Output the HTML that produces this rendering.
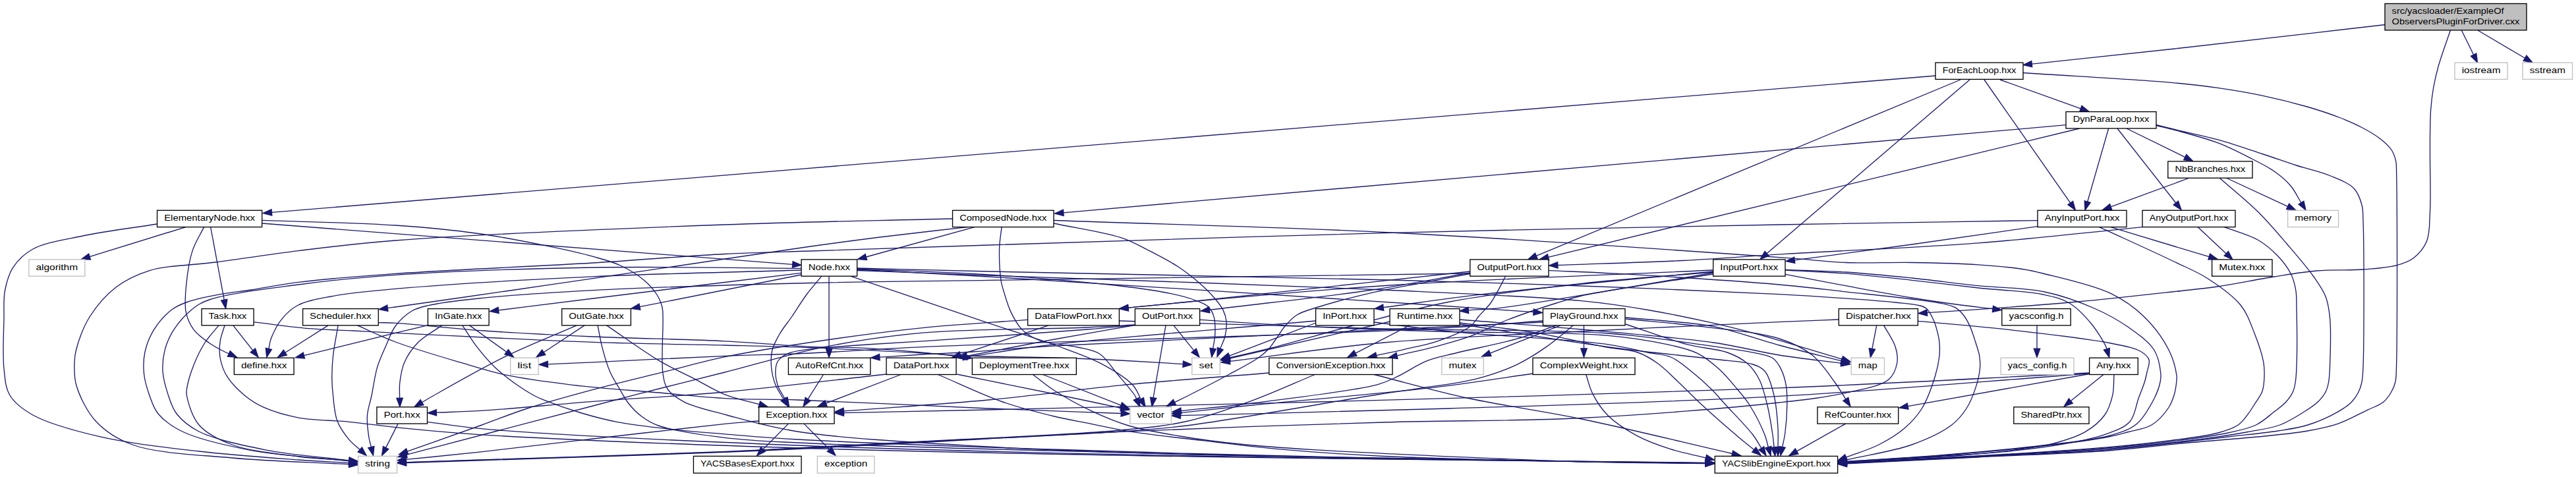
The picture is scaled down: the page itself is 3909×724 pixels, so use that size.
<!DOCTYPE html><html><head><meta charset="utf-8"><title>include graph</title><style>html,body{margin:0;padding:0;background:#fff}svg{display:block}text{font-family:"Liberation Sans",sans-serif;font-size:13.6px;fill:#000}</style></head><body>
<svg width="3909" height="724" viewBox="0 0 3909 724">
<rect width="3909" height="724" fill="#fff"/>
<g fill="none" stroke="#191970" stroke-width="1.33">
<path d="M3619.0,37.5C3512.7,49.7 3396.1,63.4 3300.0,74.0C3220.8,82.7 3155.5,89.4 3083.3,97.1"/>
<path d="M3718.4,46.0C3712.4,64.0 3704.8,84.0 3700.3,100.0C3696.8,112.4 3694.6,122.3 3692.6,133.5C3690.7,144.6 3689.4,155.9 3688.6,167.0C3687.8,178.0 3687.8,188.5 3687.6,200.0C3687.4,212.7 3687.5,224.3 3687.5,240.0C3687.5,262.3 3688.8,298.0 3687.5,321.0C3686.5,338.2 3687.6,353.6 3682.5,366.0C3678.2,376.6 3670.1,385.8 3662.0,392.0C3654.7,397.6 3647.0,399.9 3637.0,402.6C3623.4,406.3 3605.2,407.6 3587.0,409.0C3565.4,410.7 3539.1,409.1 3516.0,411.0C3493.8,412.8 3474.1,416.4 3451.0,420.0C3424.3,424.2 3391.7,431.1 3365.0,435.0C3341.9,438.3 3326.0,439.6 3300.0,442.5C3260.9,446.8 3202.4,453.5 3153.0,458.0C3103.0,462.6 3044.1,466.6 3002.0,469.6C2971.8,471.8 2950.2,473.0 2924.3,474.7"/>
<path d="M3735.3,46.0L3753.6,83.0"/>
<path d="M3760.0,46.0L3831.5,88.2"/>
<path d="M3070.0,110.5C3146.7,115.6 3246.3,120.9 3300.0,125.8C3329.1,128.5 3344.7,130.4 3367.0,133.6C3389.4,136.9 3411.8,140.6 3434.0,145.3C3456.4,150.0 3480.3,156.0 3501.0,162.0C3519.2,167.3 3536.7,173.1 3551.7,179.0C3564.1,183.9 3574.6,188.5 3585.0,194.0C3594.7,199.1 3604.3,204.7 3612.0,210.7C3618.7,215.9 3625.0,221.4 3629.0,227.5C3632.5,232.8 3634.3,238.5 3635.6,244.3C3636.9,250.0 3636.3,252.5 3636.6,262.0C3637.7,300.6 3638.0,512.5 3636.5,556.0C3636.1,568.5 3636.4,573.0 3634.8,580.0C3633.5,585.7 3631.5,590.2 3628.7,595.0C3625.6,600.3 3622.0,605.9 3616.7,610.2C3610.4,615.3 3601.9,617.8 3592.5,622.3C3579.8,628.4 3562.6,638.1 3547.2,643.4C3532.4,648.5 3518.2,651.1 3502.0,654.0C3483.4,657.3 3465.1,659.0 3441.5,661.5C3408.2,665.0 3361.0,668.3 3320.8,672.0C3280.5,675.8 3245.4,680.6 3200.0,684.0C3141.7,688.3 3066.5,690.7 3000.0,694.0C2933.9,697.3 2868.2,700.6 2802.3,703.8"/>
<path d="M2937.0,115.0L412.3,322.4"/>
<path d="M2975.0,121.0L2331.3,388.4"/>
<path d="M2989.0,121.0L2681.1,384.8"/>
<path d="M3011.0,121.0L3141.8,308.1"/>
<path d="M3035.0,121.0L3157.4,164.8"/>
<path d="M3135.0,189.7L1613.8,322.8"/>
<path d="M3155.5,195.0L2349.5,390.4"/>
<path d="M3199.7,195.0L3167.7,306.2"/>
<path d="M3213.0,195.0L3301.8,308.0"/>
<path d="M3227.0,195.0L3315.7,238.6"/>
<path d="M3272.0,190.5C3281.3,192.8 3288.7,194.2 3300.0,197.3C3317.6,202.1 3346.6,209.6 3367.0,217.4C3385.2,224.4 3402.1,233.3 3417.0,241.0C3429.5,247.5 3440.9,252.8 3451.0,260.0C3460.4,266.6 3469.1,273.8 3476.0,282.0C3482.6,289.8 3486.6,299.1 3492.0,307.7"/>
<path d="M3272.0,189.5C3281.3,191.8 3288.7,193.7 3300.0,196.5C3317.5,200.8 3344.8,206.2 3367.0,212.4C3389.5,218.7 3413.3,227.2 3434.0,234.0C3452.1,239.9 3467.6,245.5 3484.6,251.0C3501.8,256.5 3521.1,260.6 3536.5,267.0C3549.8,272.5 3564.0,277.6 3572.0,286.0C3578.6,292.9 3581.7,302.5 3584.0,311.0C3586.1,318.9 3585.5,323.0 3586.0,335.0C3587.5,371.5 3587.5,519.5 3586.0,556.0C3585.5,568.0 3585.4,573.0 3584.0,580.0C3582.8,585.7 3581.4,590.2 3579.0,595.0C3576.4,600.2 3573.0,605.5 3568.4,610.2C3562.9,615.8 3555.9,620.4 3547.2,625.3C3535.2,632.1 3517.3,640.2 3502.0,645.0C3487.1,649.7 3473.7,651.3 3456.6,654.0C3434.7,657.5 3411.6,659.5 3381.0,663.0C3333.6,668.4 3261.9,677.6 3200.0,682.6C3135.1,687.9 3066.5,690.0 3000.0,693.5C2933.9,696.9 2868.2,700.1 2802.3,703.3"/>
<path d="M3378.0,270.0L3471.6,313.4"/>
<path d="M3322.6,270.0L3203.2,313.9"/>
<path d="M3368.0,270.0C3387.3,287.0 3408.4,303.6 3426.0,321.0C3442.5,337.3 3456.6,354.2 3471.0,371.0C3484.9,387.2 3500.7,405.3 3511.0,420.0C3518.7,430.9 3524.9,439.5 3529.0,450.0C3533.0,460.2 3534.2,469.1 3535.5,482.0C3537.5,501.5 3536.2,538.1 3535.5,556.0C3535.1,566.2 3534.9,573.0 3533.6,580.0C3532.5,585.7 3531.5,590.2 3529.0,595.0C3526.2,600.3 3522.0,605.5 3517.0,610.2C3511.3,615.7 3504.1,620.2 3496.0,625.3C3485.7,631.8 3473.0,640.0 3459.7,645.0C3445.1,650.4 3430.1,652.1 3411.4,655.5C3386.0,660.2 3353.2,665.0 3320.8,669.0C3283.5,673.6 3245.4,677.4 3200.0,681.0C3141.7,685.6 3066.5,689.4 3000.0,693.0C2933.9,696.6 2868.2,699.6 2802.3,702.8"/>
<path d="M3335.0,344.6L3378.2,384.9"/>
<path d="M3375.5,344.6C3392.3,351.1 3411.9,355.9 3426.0,364.0C3437.9,370.8 3447.5,379.2 3456.0,388.0C3464.0,396.3 3471.3,405.8 3476.0,415.0C3480.1,423.1 3482.2,431.3 3483.7,440.0C3485.3,449.0 3484.7,456.1 3485.0,468.0C3485.5,489.2 3485.8,535.9 3485.0,556.0C3484.6,566.5 3484.4,573.0 3483.2,580.0C3482.3,585.6 3481.5,590.2 3479.3,595.0C3476.9,600.3 3473.1,605.4 3468.7,610.2C3463.8,615.6 3457.3,620.1 3450.6,625.3C3442.5,631.6 3434.0,639.9 3423.4,645.0C3411.3,650.9 3397.9,653.3 3381.0,657.0C3356.6,662.3 3320.8,666.8 3290.6,670.6C3260.5,674.4 3236.1,676.6 3200.0,679.6C3146.4,684.0 3066.5,688.7 3000.0,692.5C2933.9,696.3 2868.2,699.1 2802.3,702.3"/>
<path d="M3251.0,344.6C3168.0,352.7 3088.4,362.2 3002.0,368.8C2908.6,376.0 2792.3,380.4 2710.0,385.4C2649.6,389.1 2607.8,392.7 2553.0,395.5C2492.9,398.5 2426.9,400.2 2363.8,402.5"/>
<path d="M3203.0,344.6C3235.3,354.4 3272.6,365.7 3300.0,374.0C3320.1,380.1 3334.8,384.4 3352.2,389.7"/>
<path d="M3185.7,344.6C3223.8,362.2 3269.8,382.9 3300.0,397.5C3320.2,407.2 3333.9,412.3 3350.0,422.7C3367.3,433.8 3387.9,447.9 3400.0,463.0C3410.4,476.0 3415.2,491.0 3421.0,505.7C3426.8,520.4 3432.8,537.4 3435.0,551.0C3436.7,561.6 3436.2,571.9 3435.5,580.0C3435.0,585.8 3434.4,590.1 3432.5,595.0C3430.5,600.2 3426.7,605.0 3423.4,610.2C3419.7,616.0 3415.9,622.5 3411.4,628.3C3406.9,634.2 3402.9,640.5 3396.3,645.0C3388.4,650.5 3378.6,653.5 3366.0,657.0C3346.7,662.3 3316.9,665.5 3290.6,669.0C3261.8,672.8 3236.1,675.6 3200.0,678.7C3146.4,683.3 3066.5,688.1 3000.0,692.0C2933.9,695.8 2868.2,698.6 2802.3,701.8"/>
<path d="M3092.0,343.6C3028.3,352.7 2963.5,362.3 2901.0,371.0C2840.7,379.4 2782.5,386.9 2723.2,394.8"/>
<path d="M3092.0,334.6C2961.3,336.7 2844.5,338.3 2700.0,341.0C2521.2,344.4 2300.0,348.5 2100.0,353.7C1900.0,358.9 1660.6,366.9 1500.0,372.0C1392.3,375.4 1303.7,378.5 1230.0,381.0C1178.8,382.7 1148.0,383.1 1100.0,385.5C1040.5,388.5 973.4,394.5 900.0,399.0C810.1,404.5 682.3,409.5 600.0,415.4C542.3,419.5 493.3,423.4 453.0,428.4C424.7,431.9 402.5,436.7 381.0,440.0C363.7,442.6 349.8,443.7 334.0,446.7C317.5,449.8 297.4,453.7 284.0,458.5C274.4,461.9 268.0,464.4 260.4,470.2C251.0,477.4 240.4,489.4 233.6,500.4C227.2,510.8 222.5,522.6 220.0,534.0C217.6,545.0 217.4,556.5 218.5,567.5C219.6,578.5 223.1,589.7 226.8,600.0C230.3,609.9 233.0,619.5 240.0,628.0C248.5,638.3 260.6,647.1 276.8,655.0C301.3,666.9 340.2,675.6 377.5,682.8C422.7,691.5 479.0,694.2 529.8,699.9"/>
<path d="M238.5,340.0C200.9,346.0 159.5,350.9 125.8,358.0C97.9,363.9 68.6,367.8 50.0,378.0C36.5,385.4 27.1,394.9 20.0,405.7C13.2,416.0 9.9,428.5 7.5,441.0C4.9,454.4 6.3,467.7 6.0,484.0C5.6,505.6 3.7,538.3 6.0,559.5C7.7,575.2 8.1,588.5 15.0,600.0C22.3,612.2 34.2,621.1 50.0,630.0C74.0,643.5 113.6,653.9 151.0,662.7C195.9,673.2 251.6,679.1 302.0,685.0C352.2,690.9 411.1,694.9 453.0,698.0C482.8,700.2 504.1,701.1 529.7,702.7"/>
<path d="M281.8,344.6L136.0,389.6"/>
<path d="M309.5,344.6C303.7,356.6 296.4,367.3 292.0,380.6C287.1,395.7 284.4,414.8 282.8,431.0C281.4,445.7 279.7,461.3 282.2,473.6C284.3,483.8 288.3,492.7 294.0,500.4C299.9,508.4 309.3,514.8 317.4,520.5C325.0,525.9 335.6,531.3 341.0,534.0C343.7,535.4 345.2,535.9 347.2,536.8"/>
<path d="M319.6,344.6L340.2,455.2"/>
<path d="M397.6,339.0L1202.7,401.4"/>
<path d="M397.6,334.3C465.1,336.9 540.6,337.9 600.0,342.0C647.0,345.2 685.9,348.9 725.8,354.5C762.5,359.6 799.4,367.0 830.7,373.4C856.3,378.6 880.0,383.8 900.0,389.4C915.7,393.8 928.5,396.9 941.5,403.0C954.3,409.0 967.8,417.2 977.5,425.4C985.6,432.2 992.3,440.0 997.0,447.5C1001.0,453.9 1003.5,460.6 1005.0,467.0C1006.3,472.7 1005.8,476.2 1006.0,484.0C1006.5,501.3 1003.1,548.4 1006.0,567.5C1007.6,577.9 1008.7,584.2 1013.4,591.0C1018.7,598.6 1027.1,604.2 1037.8,609.8C1053.8,618.1 1078.5,623.3 1103.0,630.0C1134.1,638.5 1165.3,648.0 1210.0,655.0C1282.7,666.3 1401.7,672.2 1500.0,678.0C1601.6,684.0 1689.7,686.6 1810.0,690.0C1977.3,694.7 2268.9,698.2 2410.0,700.3C2486.9,701.4 2528.8,701.7 2588.2,702.4"/>
<path d="M1445.5,332.0C1330.3,335.0 1225.8,336.3 1100.0,341.0C948.7,346.6 717.1,356.0 600.0,365.0C536.4,369.9 500.1,374.9 453.0,380.6C409.3,385.9 366.6,392.7 327.0,398.0C291.6,402.7 253.7,402.5 226.5,410.8C206.2,417.0 190.9,424.6 176.0,436.0C160.6,447.8 146.2,464.8 136.0,481.0C126.5,496.2 119.3,517.1 115.8,530.0C113.6,538.0 113.2,542.4 113.0,550.0C112.7,560.0 112.1,572.2 115.8,584.7C120.8,601.5 132.0,625.0 146.0,640.0C160.3,655.2 176.9,666.2 201.0,675.0C237.8,688.4 299.5,690.1 352.0,695.0C408.7,700.3 470.5,701.5 529.7,704.8"/>
<path d="M1468.0,344.6C1423.7,349.7 1376.7,354.8 1335.0,360.0C1297.9,364.6 1266.8,368.9 1230.0,374.0C1189.0,379.7 1148.0,385.9 1100.0,393.0C1040.5,401.8 958.1,414.1 900.0,422.6C855.2,429.2 824.8,433.6 781.0,440.0C727.0,447.8 624.5,462.5 600.0,466.0C593.7,466.9 592.1,467.1 588.2,467.7"/>
<path d="M1478.8,344.6L1314.4,390.0"/>
<path d="M1520.0,344.6C1518.9,355.0 1517.0,364.2 1516.6,375.8C1516.2,390.5 1517.3,414.5 1519.0,426.0C1519.9,432.2 1520.8,434.4 1522.5,440.0C1525.1,448.8 1529.1,463.3 1534.0,473.6C1538.7,483.3 1543.7,493.2 1551.0,500.4C1558.3,507.6 1566.8,512.8 1578.0,517.0C1593.1,522.7 1618.6,523.1 1635.0,527.0C1647.7,530.0 1658.7,530.7 1668.5,537.0C1679.0,543.8 1686.5,557.1 1695.3,567.5C1704.3,578.1 1718.0,593.6 1722.0,600.0C1723.5,602.4 1723.6,603.6 1724.5,605.4"/>
<path d="M1599.0,334.5C1769.3,340.7 1932.9,344.1 2110.0,353.0C2302.0,362.6 2598.0,383.4 2710.0,391.4C2753.6,394.5 2769.7,397.3 2800.7,398.5C2833.3,399.8 2867.5,398.0 2901.0,398.5C2934.6,399.0 2971.8,399.8 3002.0,401.8C3026.6,403.4 3051.0,405.7 3069.0,408.5C3081.4,410.4 3086.7,411.7 3100.0,415.0C3124.4,421.2 3175.5,432.2 3203.0,445.4C3223.8,455.4 3239.0,466.5 3253.6,480.7C3268.3,495.0 3282.7,514.6 3291.0,531.0C3297.7,544.2 3301.8,561.2 3303.0,570.0C3303.6,574.4 3303.1,576.2 3302.7,580.0C3302.2,585.1 3301.4,591.9 3299.6,598.0C3297.6,604.8 3295.3,612.1 3290.6,619.0C3284.7,627.8 3275.1,638.9 3265.0,645.0C3254.9,651.1 3241.3,652.4 3230.0,655.5C3219.6,658.3 3213.0,660.5 3200.0,663.0C3176.5,667.6 3136.8,672.7 3100.0,677.0C3055.1,682.2 2999.8,687.0 2950.0,691.0C2900.6,695.0 2851.5,697.7 2802.3,701.1"/>
<path d="M1216.0,407.4C1110.7,406.9 1003.9,404.3 900.0,406.0C798.7,407.7 682.3,411.8 600.0,417.4C542.3,421.4 500.9,425.6 453.0,432.0C406.8,438.2 344.7,445.3 317.4,455.0C304.5,459.6 299.0,463.4 290.6,470.2C281.0,478.0 270.7,489.8 263.8,500.4C257.6,510.0 253.1,520.0 250.3,530.6C247.5,541.2 246.3,552.7 247.0,564.0C247.8,575.8 251.7,588.9 255.4,600.0C258.8,610.1 261.4,619.5 268.0,628.0C275.9,638.1 286.6,647.2 302.0,655.0C325.8,667.1 366.8,675.6 402.6,682.8C442.2,690.7 487.4,693.5 529.8,698.8"/>
<path d="M1216.0,410.0C1110.7,413.3 1003.9,415.0 900.0,419.8C798.7,424.5 672.7,431.9 600.0,438.4C558.4,442.2 529.1,444.8 502.0,450.0C482.3,453.8 464.7,456.6 451.7,463.5C441.7,468.8 434.8,475.5 428.2,483.6C421.2,492.1 414.7,505.2 411.4,513.8C409.1,519.6 409.0,524.1 407.8,529.3"/>
<path d="M1216.0,414.3C1110.7,427.2 984.8,442.5 900.0,453.0C842.9,460.1 804.4,465.0 756.5,470.9"/>
<path d="M1216.0,417.0L970.8,465.7"/>
<path d="M1258.0,419.4L1258.0,529.4"/>
<path d="M1291.3,419.4C1360.9,443.0 1442.8,471.1 1500.0,490.3C1539.8,503.7 1571.1,513.0 1601.3,524.0C1626.1,533.1 1648.2,540.1 1668.5,550.7C1687.0,560.4 1708.3,573.1 1718.8,584.3C1725.6,591.5 1727.2,598.7 1731.3,606.0"/>
<path d="M1300.6,409.0C1367.1,412.7 1413.8,414.9 1500.0,420.0C1659.3,429.5 2036.1,453.9 2180.0,463.5C2246.9,468.0 2278.1,470.3 2327.1,473.7"/>
<path d="M1300.6,410.5C1367.1,413.0 1415.7,414.9 1500.0,418.0C1646.3,423.4 1934.3,432.4 2100.0,440.0C2217.2,445.4 2326.7,449.7 2400.0,456.7C2442.6,460.8 2467.3,464.8 2500.7,470.5C2534.3,476.2 2570.0,483.6 2601.0,490.7C2628.2,496.9 2659.0,505.1 2677.0,510.0C2686.9,512.7 2689.7,513.7 2700.0,516.7C2720.9,522.9 2763.5,535.7 2795.2,545.2"/>
<path d="M1300.6,407.0C1367.1,408.7 1415.4,410.0 1500.0,412.0C1647.9,415.4 1944.0,420.7 2110.0,425.0C2224.4,428.0 2302.5,430.4 2400.0,434.0C2499.2,437.6 2626.6,442.8 2700.0,446.6C2742.5,448.8 2769.6,450.7 2800.7,452.9C2827.6,454.8 2855.2,456.8 2876.0,459.0C2890.8,460.6 2905.6,461.4 2914.0,464.0C2918.6,465.4 2921.0,466.2 2924.0,469.0C2927.9,472.6 2931.3,479.6 2934.0,485.6C2936.8,491.8 2938.9,499.5 2940.4,505.7C2941.7,510.8 2942.5,514.8 2943.0,520.0C2943.5,526.1 2943.8,532.6 2943.0,540.0C2942.0,549.3 2940.0,559.7 2936.5,571.0C2932.0,585.7 2924.9,606.2 2916.4,620.0C2909.0,631.9 2900.4,641.1 2890.0,650.0C2878.8,659.6 2865.2,667.8 2851.0,675.0C2835.8,682.7 2818.0,687.8 2801.4,694.2"/>
<path d="M2350.4,410.7C2383.6,412.2 2409.3,412.9 2450.0,415.2C2514.5,418.8 2635.3,426.4 2700.0,432.0C2741.1,435.6 2767.2,439.1 2800.7,442.8C2834.2,446.5 2873.2,450.3 2901.0,454.0C2920.8,456.6 2939.8,458.9 2951.7,461.7C2958.3,463.3 2962.2,464.1 2966.8,466.7C2971.5,469.4 2975.7,473.5 2979.4,478.0C2983.4,483.0 2986.5,489.1 2989.5,495.6C2992.8,502.9 2995.5,512.2 2998.0,520.0C3000.2,527.0 3002.6,533.3 3003.7,540.0C3004.7,546.5 3005.2,552.3 3004.5,559.5C3003.6,568.9 3000.5,581.2 2997.0,591.4C2993.6,601.4 2989.7,611.2 2984.0,620.0C2978.1,629.1 2971.9,637.2 2961.7,645.0C2947.1,656.1 2924.2,666.7 2901.0,675.0C2872.5,685.2 2835.0,690.3 2802.0,698.0"/>
<path d="M2230.8,414.0C2181.2,422.7 2138.0,431.7 2082.0,440.0C2010.2,450.7 1917.5,460.2 1835.2,470.4"/>
<path d="M2230.8,412.0C2087.2,427.5 1889.4,449.3 1800.0,458.5C1759.6,462.7 1741.3,464.3 1712.0,467.2"/>
<path d="M2230.8,415.0C1987.2,418.5 1684.2,422.7 1500.0,425.4C1388.0,427.0 1324.5,427.2 1230.0,429.5C1125.5,432.1 992.5,435.8 900.0,440.6C832.7,444.1 771.9,448.1 725.8,453.0C695.3,456.2 668.3,459.3 650.0,463.6C639.3,466.1 632.9,467.3 625.0,472.0C616.1,477.3 606.5,486.2 600.0,495.0C593.6,503.6 590.5,513.9 586.0,524.0C581.3,534.7 576.1,545.4 572.5,557.4C568.6,570.6 566.7,586.9 564.0,600.0C561.7,611.2 558.0,620.4 557.3,631.0C556.6,642.0 558.6,656.3 560.0,665.0C560.9,670.6 562.2,674.0 563.3,678.5"/>
<path d="M2709.0,409.3C2739.6,410.5 2769.5,411.0 2800.7,413.0C2833.4,415.1 2867.5,418.6 2901.0,422.0C2934.6,425.5 2968.3,430.2 3002.0,433.7C3035.5,437.2 3071.8,436.6 3102.6,443.0C3129.9,448.7 3155.8,458.3 3178.0,468.0C3196.9,476.3 3213.1,485.1 3228.4,495.8C3243.2,506.2 3260.4,517.9 3268.7,531.0C3275.6,541.8 3277.8,556.9 3278.8,566.0C3279.4,571.7 3279.1,574.8 3278.0,580.0C3276.6,587.0 3273.8,595.3 3269.4,604.0C3263.3,615.9 3254.0,633.8 3242.3,643.4C3230.8,652.8 3217.5,656.6 3200.0,661.5C3174.1,668.8 3136.8,671.6 3100.0,676.0C3055.1,681.4 2999.8,686.4 2950.0,690.5C2900.6,694.6 2851.5,697.2 2802.3,700.6"/>
<path d="M2709.0,410.0C2739.6,411.7 2769.5,412.7 2800.7,415.2C2833.4,417.8 2867.5,421.7 2901.0,425.3C2934.6,428.9 2968.6,433.4 3002.0,437.0C3034.9,440.6 3074.7,441.7 3100.0,447.0C3116.5,450.5 3128.0,452.9 3140.0,460.0C3152.4,467.3 3163.6,479.5 3173.0,490.7C3182.1,501.5 3193.0,520.1 3195.7,526.0C3196.5,527.8 3196.5,528.5 3196.9,529.8"/>
<path d="M2709.0,416.4C2739.6,422.2 2769.4,427.9 2800.7,433.7C2833.4,439.8 2870.8,447.0 2901.0,452.0C2925.7,456.1 2947.1,459.1 2968.5,462.0C2987.9,464.6 3005.5,466.6 3024.0,468.9"/>
<path d="M2599.7,414.0C2549.3,422.7 2500.2,431.4 2448.5,440.0C2394.0,449.0 2320.9,462.0 2280.7,466.8C2258.4,469.5 2245.8,469.6 2228.3,470.9"/>
<path d="M2599.7,410.0C2436.5,417.7 2254.6,423.7 2110.0,433.0C1994.8,440.4 1871.8,452.0 1800.0,458.5C1761.7,462.0 1741.3,464.3 1712.0,467.2"/>
<path d="M331.9,493.9C324.8,502.8 316.9,510.8 310.7,520.5C304.2,530.7 298.5,542.6 294.0,554.0C289.6,565.0 285.4,579.2 283.9,587.7C283.0,592.7 282.4,594.7 283.3,600.0C285.1,610.4 291.4,632.8 302.0,645.0C313.6,658.4 331.8,667.4 352.3,675.0C379.4,685.1 421.6,689.0 453.0,693.0C480.2,696.5 504.1,697.0 529.7,699.0"/>
<path d="M341.0,493.9C338.7,501.7 335.4,509.1 334.2,517.2C333.0,525.7 332.6,535.2 334.2,544.0C335.9,553.1 339.0,562.3 344.3,570.9C350.5,581.0 361.3,591.9 371.0,600.0C380.0,607.5 388.5,613.0 400.0,618.2C414.5,624.8 432.7,630.1 452.0,633.8C475.2,638.2 504.0,637.7 530.0,640.3C556.0,642.9 579.1,646.5 608.0,649.4C644.1,653.0 675.9,656.4 730.0,659.8C837.2,666.6 1041.1,674.6 1210.0,680.0C1398.8,686.0 1610.0,689.6 1810.0,693.0C2010.0,696.4 2268.9,698.7 2410.0,700.4C2486.9,701.4 2528.8,701.9 2588.2,702.6"/>
<path d="M353.7,493.9L383.7,531.8"/>
<path d="M498.0,493.9L432.8,535.2"/>
<path d="M513.0,493.9C510.5,509.5 506.9,526.4 505.4,540.7C504.1,552.7 503.6,563.6 503.7,574.0C503.8,583.2 504.3,590.5 505.4,600.0C506.7,611.7 507.4,627.4 511.8,639.0C515.9,649.7 523.6,659.9 530.0,667.6C535.2,673.8 540.8,677.5 546.2,682.5"/>
<path d="M542.3,493.9C561.5,502.3 577.9,510.7 600.0,519.0C628.7,529.7 670.5,541.8 700.7,550.7C725.3,557.9 743.0,563.9 767.8,569.2C797.8,575.6 832.6,580.0 868.5,584.3C909.3,589.2 958.8,592.4 1000.0,596.0C1036.4,599.2 1068.3,603.0 1103.0,604.8C1138.3,606.7 1165.6,605.5 1210.0,607.0C1283.1,609.4 1412.1,616.4 1500.0,620.0C1573.2,623.0 1634.1,625.0 1701.2,627.5"/>
<path d="M649.3,493.7C632.9,497.6 620.6,500.4 600.0,505.4C565.4,513.8 507.5,528.2 461.2,539.6"/>
<path d="M670.5,493.9C658.2,502.8 643.4,510.4 633.6,520.5C624.9,529.6 617.9,540.2 613.4,550.7C609.3,560.4 607.8,571.5 606.7,581.0C605.8,589.1 606.6,596.3 606.5,604.0"/>
<path d="M712.4,493.9L768.7,534.2"/>
<path d="M875.2,493.9C839.4,509.5 803.4,523.3 767.8,540.7C731.2,558.6 679.8,588.1 658.7,600.0C650.0,604.9 646.5,607.2 640.4,610.7"/>
<path d="M887.0,493.9L825.1,534.7"/>
<path d="M2341.0,489.0C2094.0,501.0 1743.4,516.3 1600.0,525.0C1541.3,528.6 1512.3,531.7 1476.0,534.0C1447.6,535.8 1424.4,536.6 1400.0,538.0C1377.4,539.3 1356.5,540.8 1334.8,542.2"/>
<path d="M1196.4,643.1L1158.0,682.0"/>
<path d="M1220.0,643.1L1258.6,682.0"/>
<path d="M1451.8,568.0C1501.2,578.0 1555.3,588.8 1600.0,598.0C1636.9,605.6 1667.3,612.2 1701.0,619.3"/>
<path d="M1582.5,568.5L1700.9,615.1"/>
<path d="M1591.3,493.9L1457.4,538.3"/>
<path d="M1769.0,493.9C1762.9,529.3 1752.6,588.7 1750.7,600.0C1750.3,602.1 1750.3,602.6 1750.1,603.8"/>
<path d="M1781.0,493.9L1811.6,531.9"/>
<path d="M1997.0,487.0C1864.7,498.9 1696.9,511.5 1600.0,522.7C1543.8,529.2 1511.5,535.3 1467.2,541.6"/>
<path d="M1997.0,490.0L1865.5,540.2"/>
<path d="M2139.0,493.9L2056.9,536.2"/>
<path d="M2368.0,493.9L2261.2,536.1"/>
<path d="M2403.5,493.9L2403.5,529.0"/>
<path d="M2326.3,567.0C2277.5,573.9 2236.7,580.9 2180.0,587.7C2101.8,597.0 1971.7,607.7 1900.0,615.0C1855.3,619.6 1827.5,622.7 1791.3,626.6"/>
<path d="M2790.0,485.0C2760.0,486.2 2738.8,486.9 2700.0,488.6C2629.2,491.7 2500.0,497.8 2400.0,503.0C2300.0,508.2 2193.6,511.7 2100.0,520.0C2017.1,527.4 1944.2,538.9 1866.2,548.4"/>
<path d="M2847.7,493.9L2840.9,529.4"/>
<path d="M3091.0,493.9L3091.0,529.2"/>
<path d="M3170.6,567.5L2895.1,616.7"/>
<path d="M3192.0,568.5L3142.4,608.6"/>
<path d="M3170.6,566.0C3013.7,573.6 2872.4,582.1 2700.0,588.9C2489.8,597.2 2213.8,604.2 2000.0,610.0C1819.4,614.9 1632.9,619.0 1500.0,622.0C1411.9,624.0 1353.6,625.1 1280.3,626.7"/>
<path d="M3170.6,567.0C3013.7,578.5 2859.3,592.6 2700.0,601.4C2535.9,610.4 2358.3,615.0 2200.0,620.0C2056.9,624.5 1927.6,627.1 1791.3,630.7"/>
<path d="M2800.7,643.1L2726.6,684.9"/>
<path d="M2466.6,484.0C2504.4,487.8 2541.7,490.5 2580.0,495.4C2619.5,500.4 2669.2,504.2 2700.0,514.0C2720.9,520.7 2735.7,527.7 2750.0,539.0C2764.2,550.3 2776.4,569.5 2785.5,582.0C2792.0,590.9 2795.7,597.9 2800.8,605.8"/>
<path d="M2466.6,482.0C2486.4,483.7 2505.1,484.9 2526.0,487.0C2549.6,489.4 2574.5,490.4 2601.0,495.7C2632.0,501.9 2667.4,515.2 2700.0,524.0C2731.7,532.5 2762.7,539.8 2794.1,547.7"/>
<path d="M2215.0,485.0C2276.7,490.0 2337.2,494.3 2400.0,500.0C2465.4,505.9 2544.9,512.0 2600.0,520.0C2639.2,525.7 2667.1,533.7 2700.0,539.0C2731.7,544.1 2762.5,547.2 2793.8,551.3"/>
<path d="M604.0,643.1L585.5,679.6"/>
<path d="M648.4,640.3C675.6,643.8 691.4,647.2 730.0,650.7C823.3,659.1 1041.0,669.3 1210.0,676.0C1398.8,683.5 1610.0,687.9 1810.0,692.0C2010.0,696.1 2268.9,698.7 2410.0,700.6C2486.9,701.6 2528.8,702.1 2588.2,702.8"/>
<path d="M2214.7,490.0C2253.7,495.1 2293.5,498.9 2331.6,505.3C2368.5,511.5 2411.6,522.1 2440.0,527.4C2458.3,530.8 2472.1,530.4 2485.3,535.0C2496.8,539.0 2505.8,544.6 2515.5,551.5C2526.0,559.0 2535.3,568.9 2545.7,578.7C2557.3,589.6 2568.3,601.3 2582.0,614.0C2598.9,629.6 2625.2,652.5 2640.0,665.0C2648.9,672.5 2654.4,676.7 2661.7,682.6"/>
<path d="M2085.0,489.0C2123.3,493.7 2154.6,498.4 2200.0,503.0C2265.4,509.7 2386.7,515.2 2440.0,522.8C2467.0,526.6 2482.8,531.4 2500.4,535.0C2514.0,537.8 2525.3,537.5 2536.6,542.5C2548.6,547.8 2559.7,558.3 2570.0,566.6C2579.7,574.4 2588.7,582.6 2597.0,590.8C2604.7,598.4 2610.0,604.9 2618.2,614.0C2629.8,626.7 2650.4,647.4 2660.0,660.0C2666.0,667.8 2668.6,673.5 2672.9,680.2"/>
<path d="M2466.6,492.0C2498.0,502.3 2532.7,515.5 2560.8,522.9C2583.0,528.7 2604.9,529.1 2621.2,535.0C2633.4,539.4 2643.2,544.4 2651.4,551.5C2659.1,558.2 2664.6,566.2 2669.5,575.7C2675.1,586.6 2678.3,600.5 2681.6,614.0C2685.2,628.5 2688.2,648.0 2690.0,660.0C2691.1,667.6 2691.4,672.5 2692.1,678.8"/>
<path d="M1698.4,487.0C1832.3,491.0 1971.7,495.8 2100.0,499.0C2218.0,502.0 2349.5,499.6 2440.0,506.0C2500.5,510.3 2549.3,518.6 2591.0,524.4C2620.5,528.5 2648.4,532.1 2666.5,536.4C2676.9,538.8 2684.5,539.6 2690.7,544.0C2696.3,548.0 2699.6,554.2 2702.8,560.6C2706.3,567.7 2708.8,576.3 2710.3,584.8C2711.9,594.0 2711.9,603.3 2711.8,614.0C2711.7,627.2 2710.3,646.2 2708.7,658.0C2707.6,666.1 2706.0,671.6 2704.6,678.4"/>
<path d="M2214.7,492.0C2293.1,504.0 2380.3,518.7 2450.0,528.0C2505.5,535.4 2561.3,540.2 2600.0,545.0C2624.5,548.0 2646.1,548.2 2660.0,553.0C2668.3,555.9 2673.5,558.1 2678.5,564.0C2685.1,571.9 2688.8,586.8 2692.0,600.0C2695.7,615.1 2697.1,635.6 2698.0,650.0C2698.6,660.9 2698.0,669.1 2698.0,678.7"/>
<path d="M2085.0,568.5C2132.0,580.3 2176.3,593.2 2226.0,604.0C2280.8,615.9 2338.2,623.2 2400.0,636.0C2471.2,650.7 2552.4,671.0 2628.6,688.5"/>
<path d="M1925.8,566.0C1850.5,572.3 1772.9,577.7 1700.0,584.8C1631.3,591.5 1568.3,600.6 1500.0,607.0C1428.5,613.7 1353.5,618.3 1280.3,624.0"/>
<path d="M2109.6,488.0L1866.0,544.0"/>
<path d="M2361.8,493.8C2341.7,500.7 2323.7,508.0 2301.4,514.4C2274.4,522.1 2235.8,529.3 2210.8,535.5C2193.1,539.9 2180.3,541.8 2165.5,547.6C2150.0,553.7 2133.9,565.3 2120.2,571.7C2109.3,576.8 2104.7,579.8 2090.0,583.8C2054.2,593.5 1954.5,605.0 1900.0,612.0C1859.1,617.2 1828.2,619.7 1792.3,623.6"/>
<path d="M1821.0,485.3C1874.4,488.7 1925.0,492.5 1981.3,495.4C2044.0,498.6 2109.3,500.8 2180.0,503.0C2260.8,505.5 2375.8,503.7 2440.0,509.3C2478.1,512.6 2505.7,517.4 2530.6,522.9C2548.5,526.9 2562.6,529.7 2576.0,536.4C2588.5,542.6 2598.9,551.5 2609.0,560.6C2619.0,569.7 2628.3,581.3 2636.3,590.8C2643.1,598.9 2648.4,604.6 2654.4,614.0C2662.3,626.4 2673.2,647.9 2678.0,660.0C2680.9,667.4 2681.6,672.5 2683.3,678.7"/>
<path d="M1559.4,485.3C1506.3,489.4 1452.2,492.3 1400.0,497.6C1349.4,502.8 1300.8,509.2 1251.0,516.5C1200.8,523.9 1143.6,532.7 1100.0,541.7C1066.2,548.7 1042.1,555.9 1010.7,563.7C975.8,572.4 935.9,581.8 900.0,591.4C865.7,600.6 830.2,610.2 800.0,620.0C774.4,628.3 756.1,636.1 730.0,645.5C697.1,657.3 655.4,672.0 618.1,685.2"/>
<path d="M2341.0,487.0C2287.3,490.9 2253.9,494.7 2180.0,498.7C2017.6,507.5 1565.5,519.1 1400.0,526.6C1322.7,530.1 1282.9,533.6 1230.0,536.0C1183.8,538.1 1148.0,538.5 1100.0,540.4C1040.5,542.8 949.3,547.6 900.0,549.8C871.1,551.1 854.2,551.8 831.3,552.8"/>
<path d="M920.5,493.9C947.0,511.7 975.8,533.1 1000.0,547.4C1019.1,558.7 1035.9,565.8 1053.0,574.6C1069.1,582.9 1083.6,592.3 1100.0,598.8C1116.6,605.4 1134.8,608.8 1152.2,613.7"/>
<path d="M1249.5,568.5L1226.1,605.7"/>
<path d="M1367.0,568.5L1253.4,612.2"/>
<path d="M1345.0,568.0C1263.3,577.0 1177.6,587.9 1100.0,595.0C1030.0,601.4 963.9,604.5 900.0,609.4C841.0,614.0 773.9,620.7 730.0,623.4C702.4,625.1 684.9,625.3 662.3,626.2"/>
<path d="M2599.7,413.0C2533.1,418.8 2466.5,422.8 2400.0,430.3C2333.3,437.8 2261.6,446.2 2200.0,458.0C2146.1,468.3 2097.1,482.7 2050.0,495.0C2007.7,506.0 1963.8,519.4 1930.0,528.0C1905.4,534.3 1887.3,538.0 1866.0,543.0"/>
<path d="M2284.7,419.2C2280.1,427.9 2275.0,438.0 2270.8,445.4C2267.6,451.0 2265.7,454.9 2262.0,460.0C2257.3,466.4 2249.4,473.8 2244.0,480.0C2239.4,485.3 2238.0,490.2 2231.7,495.0C2221.1,503.1 2198.5,511.9 2181.4,517.8C2164.9,523.5 2147.1,526.5 2131.0,530.3C2116.3,533.7 2102.7,536.5 2088.6,539.6"/>
<path d="M2599.7,416.0C2533.1,427.0 2440.4,439.9 2400.0,449.0C2382.1,453.0 2376.6,455.3 2361.8,460.0C2340.8,466.6 2309.3,477.0 2286.3,486.0C2266.4,493.8 2249.7,503.5 2231.7,510.2C2214.8,516.5 2199.1,520.5 2181.4,525.3C2162.0,530.5 2140.4,535.0 2120.0,539.9"/>
<path d="M384.2,488.7C412.3,492.0 442.0,496.5 468.5,498.7C492.1,500.7 513.5,500.9 535.6,502.0C557.3,503.1 570.7,503.9 600.0,505.4C663.3,508.5 810.1,516.3 900.0,519.4C973.4,522.0 1040.5,522.5 1100.0,524.0C1148.0,525.2 1183.8,525.9 1230.0,527.7C1282.9,529.7 1356.3,533.6 1400.0,536.0C1427.4,537.5 1440.8,538.9 1467.0,540.0C1504.0,541.5 1559.7,541.7 1601.0,543.0C1636.5,544.1 1667.3,545.4 1700.0,547.0C1732.0,548.6 1763.5,550.7 1795.2,552.6"/>
<path d="M574.5,489.7C583.0,489.9 588.2,489.6 600.0,490.3C627.2,491.8 687.1,498.7 734.2,502.0C786.5,505.7 842.1,508.4 900.0,511.0C963.5,513.8 1040.5,514.8 1100.0,517.8C1148.0,520.2 1193.3,524.7 1230.0,526.3C1256.9,527.5 1276.2,526.8 1300.0,527.8C1324.7,528.9 1351.5,530.8 1375.5,532.8C1397.4,534.6 1422.5,537.2 1438.4,539.0C1448.1,540.1 1454.0,541.0 1461.8,541.9"/>
<path d="M1722.4,493.5C1681.6,500.7 1641.6,507.4 1600.0,515.0C1556.6,523.0 1511.4,532.0 1467.1,540.5"/>
<path d="M1722.4,493.5C1698.3,495.7 1681.4,497.5 1650.0,500.0C1591.7,504.7 1464.3,513.5 1400.0,517.8C1359.6,520.5 1332.1,521.8 1301.4,524.0C1274.5,526.0 1245.3,527.5 1225.8,530.3C1213.4,532.1 1203.6,533.0 1195.6,536.6C1189.3,539.5 1183.6,543.3 1180.5,548.0C1177.7,552.3 1177.0,557.5 1176.8,563.0C1176.5,569.8 1178.3,579.2 1180.5,585.7C1182.3,591.2 1186.0,596.4 1188.0,600.0C1189.2,602.2 1190.0,603.6 1191.0,605.4"/>
<path d="M1722.4,493.0C1698.3,494.3 1681.4,495.6 1650.0,497.0C1591.7,499.6 1472.5,498.8 1400.0,505.2C1343.8,510.1 1300.6,516.8 1251.0,526.6C1200.6,536.6 1145.2,553.6 1100.0,565.0C1063.3,574.3 1033.3,581.5 1000.0,590.0C966.6,598.5 936.6,606.4 900.0,616.0C855.3,627.7 799.4,642.3 751.0,655.0C705.1,667.0 661.6,678.5 616.9,690.2"/>
<path d="M1246.6,419.4C1239.1,428.6 1231.3,437.2 1224.0,447.0C1216.4,457.3 1209.1,469.6 1202.0,480.0C1195.5,489.5 1188.2,497.9 1183.0,507.0C1178.3,515.3 1173.8,523.5 1171.7,532.0C1169.7,540.2 1169.8,548.7 1170.5,557.0C1171.2,565.4 1173.2,574.4 1176.0,582.0C1178.5,589.0 1183.6,596.8 1186.0,601.0C1187.2,603.1 1188.0,604.1 1188.9,605.7"/>
<path d="M2406.7,568.5C2410.1,578.2 2411.8,587.9 2416.8,597.6C2422.5,608.8 2430.2,620.9 2440.3,631.0C2451.9,642.5 2468.4,652.9 2484.0,661.3C2499.7,669.7 2516.9,675.8 2534.2,681.4C2551.8,687.1 2570.4,690.4 2588.6,695.0"/>
<path d="M1151.2,639.0C1134.1,640.5 1122.6,641.1 1100.0,643.4C1055.2,647.9 964.0,658.7 900.0,666.0C841.0,672.8 781.0,680.2 730.0,685.8C688.3,690.4 654.2,693.6 616.3,697.4"/>
<path d="M907.0,493.9C909.3,505.0 910.9,515.9 913.8,527.2C916.9,539.2 920.7,553.0 925.5,564.0C929.7,573.7 935.1,581.7 940.0,590.0C944.6,597.8 948.5,605.6 954.0,612.5C959.6,619.6 966.2,626.5 973.6,632.0C981.2,637.7 987.3,641.8 999.0,646.0C1021.1,653.9 1065.5,660.1 1100.0,664.4C1135.8,668.9 1158.6,669.5 1210.0,672.0C1329.9,677.9 1610.0,684.7 1810.0,689.5C2010.0,694.3 2268.9,698.5 2410.0,700.8C2486.9,702.0 2528.8,702.2 2588.2,703.0"/>
<path d="M701.7,493.9C709.2,505.0 716.0,516.6 724.2,527.2C732.4,537.8 741.1,548.0 751.0,557.4C761.2,567.1 774.0,576.8 784.6,584.3C793.4,590.5 802.3,596.0 809.7,600.0C815.2,603.0 818.0,604.2 824.7,606.9C837.4,612.0 862.1,620.9 881.0,626.5C899.6,632.1 916.3,636.6 937.0,640.6C962.1,645.4 993.7,648.7 1021.3,651.8C1048.0,654.8 1071.6,656.5 1100.0,658.8C1133.6,661.5 1158.6,664.2 1210.0,667.0C1329.9,673.6 1610.0,682.8 1810.0,688.5C2010.0,694.1 2268.9,698.6 2410.0,700.9C2486.9,702.2 2528.8,702.4 2588.2,703.2"/>
<path d="M1995.3,568.5C1964.0,581.5 1933.4,595.8 1901.3,607.6C1868.6,619.6 1834.6,631.9 1800.7,639.5C1767.5,646.9 1742.6,648.9 1700.0,653.0C1626.7,660.0 1488.6,665.2 1400.0,670.0C1329.5,673.9 1264.7,677.2 1210.0,680.0C1168.4,682.1 1142.1,683.7 1100.0,685.5C1043.2,687.9 964.0,690.3 900.0,692.5C841.0,694.5 781.0,696.4 730.0,698.0C688.3,699.3 654.2,700.4 616.3,701.6"/>
<path d="M2387.5,493.8C2373.9,504.7 2361.0,516.5 2346.7,526.4C2332.3,536.4 2318.0,545.8 2301.4,553.6C2283.1,562.2 2263.4,569.0 2241.0,574.8C2214.1,581.7 2177.6,585.7 2150.4,590.0C2128.3,593.5 2117.6,594.7 2090.0,599.0C2029.5,608.4 1872.4,637.0 1800.7,646.0C1758.6,651.3 1742.5,652.0 1700.0,655.0C1626.7,660.2 1488.6,665.9 1400.0,670.5C1329.5,674.2 1264.7,677.7 1210.0,680.5C1168.4,682.6 1142.1,684.0 1100.0,685.8C1043.2,688.2 964.0,690.7 900.0,692.8C841.0,694.8 781.0,696.6 730.0,698.2C688.3,699.5 654.2,700.6 616.3,701.9"/>
<path d="M2858.6,493.9C2864.4,504.6 2872.8,515.7 2876.0,526.0C2878.7,534.6 2880.2,542.9 2878.7,551.0C2877.1,559.6 2874.0,569.2 2866.0,576.0C2853.5,586.6 2825.1,590.9 2800.7,596.4C2771.0,603.1 2742.6,606.2 2700.0,611.0C2626.7,619.2 2500.1,629.5 2400.0,634.5C2300.1,639.5 2207.2,637.9 2100.0,641.0C1976.2,644.6 1823.7,649.7 1700.0,655.3C1592.8,660.1 1488.6,666.8 1400.0,671.5C1329.5,675.3 1264.7,678.9 1210.0,681.5C1168.4,683.5 1142.1,684.6 1100.0,686.3C1043.2,688.5 964.0,691.1 900.0,693.3C841.0,695.3 781.0,697.1 730.0,698.8C688.3,700.2 654.2,701.3 616.3,702.6"/>
<path d="M1423.3,568.5C1456.0,582.3 1490.3,599.1 1521.5,610.0C1548.8,619.6 1575.9,626.2 1600.0,632.0C1620.1,636.9 1637.3,639.6 1656.0,643.4C1674.8,647.2 1690.3,651.0 1712.4,654.6C1743.4,659.6 1787.3,664.2 1824.7,668.7C1862.1,673.1 1896.0,677.6 1937.0,681.3C1986.2,685.8 2037.0,689.5 2100.0,692.5C2186.8,696.7 2320.9,699.3 2410.0,701.0C2477.6,702.4 2528.8,702.6 2588.2,703.3"/>
<path d="M1567.4,568.5C1578.3,576.6 1587.4,584.7 1600.0,592.8C1615.9,603.0 1637.0,614.8 1656.0,623.7C1674.5,632.4 1691.4,639.8 1712.4,646.0C1737.4,653.4 1768.4,658.3 1796.6,663.0C1824.6,667.7 1850.8,670.9 1881.0,674.0C1915.7,677.6 1956.1,680.3 1993.0,682.7C2029.1,685.0 2055.1,686.2 2100.0,688.3C2176.5,691.9 2320.9,698.8 2410.0,701.2C2477.5,703.0 2528.8,702.7 2588.2,703.5"/>
<path d="M1599.0,339.0C1633.0,346.2 1674.8,352.0 1701.0,360.7C1718.4,366.5 1728.7,372.9 1742.8,380.0C1757.7,387.6 1774.4,396.1 1788.0,405.0C1800.1,413.0 1811.1,421.8 1820.8,430.3C1829.3,437.8 1837.2,445.7 1843.4,453.0C1848.5,459.0 1853.0,464.5 1856.0,470.6C1858.7,476.2 1860.4,481.8 1861.0,488.0C1861.6,494.8 1860.6,503.0 1859.0,510.0C1857.5,516.7 1854.2,522.7 1851.7,529.0"/>
<path d="M1300.6,408.0C1367.1,411.0 1433.5,412.7 1500.0,417.0C1566.7,421.3 1649.3,428.0 1700.0,434.0C1731.3,437.7 1754.8,441.1 1775.5,445.4C1790.3,448.5 1802.6,451.6 1813.0,455.5C1821.0,458.5 1828.4,460.9 1833.3,465.5C1837.6,469.5 1840.2,474.6 1842.0,480.6C1844.2,488.0 1844.1,498.6 1843.8,507.0C1843.5,514.7 1841.7,521.7 1840.6,529.1"/>
<path d="M2599.7,412.0C2483.1,423.6 2342.3,436.0 2250.0,446.7C2189.2,453.7 2149.5,460.1 2099.2,466.7"/>
<path d="M2910.4,487.3C2957.6,491.8 3004.1,495.3 3052.0,500.8C3101.6,506.5 3167.5,513.8 3203.0,521.0C3222.8,525.0 3238.6,527.7 3248.6,533.5C3254.7,537.1 3259.4,540.9 3261.0,546.0C3262.7,551.3 3259.2,559.1 3258.0,565.0C3256.9,570.3 3256.0,574.5 3254.3,580.0C3252.1,587.1 3248.6,595.2 3245.3,604.0C3241.3,614.8 3240.1,630.8 3232.0,640.0C3223.4,649.7 3208.2,654.3 3193.7,659.6C3176.5,665.9 3155.8,669.4 3134.6,673.3C3110.3,677.8 3084.0,681.2 3055.8,684.2C3023.2,687.7 2988.2,689.5 2950.0,692.0C2904.9,694.9 2851.5,697.5 2802.3,700.3"/>
<path d="M3208.0,568.5C3207.3,578.9 3208.1,589.6 3205.8,599.8C3203.4,610.1 3200.1,621.0 3193.7,630.0C3186.7,639.9 3175.9,648.7 3164.0,655.6C3150.3,663.6 3132.3,668.8 3115.0,673.3C3096.4,678.2 3077.0,680.4 3055.8,683.2C3031.5,686.4 3008.5,688.5 2977.0,691.0C2930.2,694.7 2860.5,697.8 2802.3,701.2"/>
<path d="M2230.8,415.5C2204.8,420.4 2178.6,425.3 2152.8,430.3C2127.4,435.2 2102.4,439.6 2077.4,445.4C2052.2,451.3 2022.1,459.1 2002.0,465.5C1988.3,469.8 1977.1,472.4 1968.0,478.0C1960.5,482.7 1955.3,488.8 1950.0,495.0C1944.7,501.1 1940.5,508.8 1936.0,515.0C1932.1,520.5 1929.0,525.7 1924.7,530.3C1920.3,535.0 1916.2,538.4 1909.6,543.0C1899.0,550.4 1881.6,559.3 1865.6,568.0C1846.9,578.2 1819.3,592.3 1804.0,600.0C1795.0,604.6 1789.6,607.1 1782.5,610.6"/>
</g>
<g fill="#191970" stroke="#191970" stroke-width="1.33" stroke-linejoin="miter">
<polygon points="3070.0,98.5 3082.8,92.4 3083.7,101.7"/>
<polygon points="2911.0,475.6 2924.0,470.1 2924.6,479.4"/>
<polygon points="3759.5,95.0 3749.4,85.1 3757.8,81.0"/>
<polygon points="3843.0,95.0 3829.1,92.2 3833.9,84.2"/>
<polygon points="2789.0,704.5 2802.1,699.2 2802.5,708.5"/>
<polygon points="399.0,323.5 411.9,317.8 412.7,327.1"/>
<polygon points="2319.0,393.5 2329.5,384.1 2333.1,392.7"/>
<polygon points="2671.0,393.5 2678.1,381.3 2684.2,388.4"/>
<polygon points="3149.4,319.0 3137.9,310.7 3145.6,305.4"/>
<polygon points="3170.0,169.3 3155.9,169.2 3159.0,160.4"/>
<polygon points="1600.5,324.0 1613.4,318.2 1614.2,327.5"/>
<polygon points="2336.5,393.5 2348.4,385.8 2350.6,394.9"/>
<polygon points="3164.0,319.0 3163.2,304.9 3172.2,307.5"/>
<polygon points="3310.0,318.5 3298.1,310.9 3305.4,305.1"/>
<polygon points="3327.7,244.5 3313.7,242.8 3317.8,234.4"/>
<polygon points="3499.0,319.0 3488.0,310.1 3495.9,305.2"/>
<polygon points="2789.0,704.0 2802.1,698.7 2802.5,708.0"/>
<polygon points="3483.7,319.0 3469.6,317.6 3473.6,309.2"/>
<polygon points="3190.7,318.5 3201.6,309.5 3204.8,318.3"/>
<polygon points="2789.0,703.5 2802.1,698.2 2802.5,707.5"/>
<polygon points="3388.0,394.0 3375.1,388.3 3381.4,381.5"/>
<polygon points="2789.0,703.0 2802.1,697.7 2802.5,707.0"/>
<polygon points="2350.5,403.0 2363.6,397.8 2364.0,407.2"/>
<polygon points="3365.0,393.5 3350.9,394.1 3353.6,385.2"/>
<polygon points="2789.0,702.5 2802.1,697.2 2802.5,706.5"/>
<polygon points="2710.0,396.6 2722.6,390.2 2723.8,399.5"/>
<polygon points="543.0,701.4 529.2,704.6 530.3,695.3"/>
<polygon points="543.0,703.5 529.4,707.3 530.0,698.0"/>
<polygon points="123.3,393.5 134.7,385.1 137.4,394.0"/>
<polygon points="359.4,542.3 345.3,541.1 349.2,532.6"/>
<polygon points="342.6,468.3 335.6,456.0 344.8,454.3"/>
<polygon points="1216.0,402.4 1202.3,406.0 1203.1,396.7"/>
<polygon points="2601.5,702.6 2588.1,707.1 2588.2,697.8"/>
<polygon points="543.0,705.5 529.4,709.4 529.9,700.1"/>
<polygon points="575.0,469.5 587.6,463.0 588.8,472.3"/>
<polygon points="1301.5,393.5 1313.1,385.5 1315.6,394.5"/>
<polygon points="1730.0,617.5 1720.2,607.3 1728.7,603.4"/>
<polygon points="2789.0,702.0 2802.0,696.4 2802.6,705.8"/>
<polygon points="543.0,700.5 529.2,703.5 530.4,694.2"/>
<polygon points="404.7,542.3 403.2,528.3 412.3,530.4"/>
<polygon points="743.3,472.6 755.9,466.3 757.1,475.6"/>
<polygon points="957.7,468.3 969.9,461.1 971.7,470.3"/>
<polygon points="1258.0,542.7 1253.3,529.4 1262.7,529.4"/>
<polygon points="1738.0,617.5 1727.3,608.3 1735.4,603.6"/>
<polygon points="2340.4,474.6 2326.8,478.3 2327.4,469.0"/>
<polygon points="2808.0,549.0 2793.9,549.7 2796.6,540.7"/>
<polygon points="2789.0,699.0 2799.7,689.8 2803.1,698.5"/>
<polygon points="2789.0,701.0 2800.9,693.4 2803.0,702.5"/>
<polygon points="1822.0,472.0 1834.7,465.7 1835.8,475.0"/>
<polygon points="1698.7,468.5 1711.5,462.5 1712.4,471.8"/>
<polygon points="566.4,691.5 558.7,679.6 567.8,677.4"/>
<polygon points="2789.0,701.5 2802.0,695.9 2802.6,705.3"/>
<polygon points="3200.8,542.5 3192.4,531.1 3201.3,528.4"/>
<polygon points="3037.2,470.6 3023.4,473.6 3024.6,464.3"/>
<polygon points="2215.0,472.0 2227.9,466.3 2228.7,475.6"/>
<polygon points="1698.7,468.5 1711.5,462.5 1712.4,471.8"/>
<polygon points="543.0,700.0 529.3,703.6 530.1,694.3"/>
<polygon points="2601.5,702.8 2588.1,707.3 2588.2,697.9"/>
<polygon points="392.0,542.3 380.1,534.7 387.4,528.9"/>
<polygon points="421.5,542.3 430.3,531.2 435.3,539.1"/>
<polygon points="556.0,691.5 543.0,685.9 549.3,679.0"/>
<polygon points="1714.5,628.0 1701.0,632.2 1701.4,622.8"/>
<polygon points="448.3,542.8 460.1,535.1 462.4,544.1"/>
<polygon points="606.8,617.5 601.8,604.3 611.2,604.1"/>
<polygon points="779.5,542.0 765.9,538.0 771.4,530.4"/>
<polygon points="628.9,617.5 638.0,606.7 642.8,614.8"/>
<polygon points="814.0,542.0 822.6,530.8 827.7,538.6"/>
<polygon points="1321.5,543.0 1334.5,537.5 1335.1,546.8"/>
<polygon points="1148.6,691.5 1154.6,678.7 1161.3,685.3"/>
<polygon points="1268.0,691.5 1255.3,685.3 1261.9,678.7"/>
<polygon points="1714.0,622.0 1700.0,623.8 1701.9,614.7"/>
<polygon points="1713.3,620.0 1699.2,619.5 1702.6,610.8"/>
<polygon points="1444.7,542.5 1455.9,533.9 1458.8,542.7"/>
<polygon points="1748.0,617.0 1745.5,603.1 1754.7,604.6"/>
<polygon points="1820.0,542.3 1808.0,534.9 1815.3,529.0"/>
<polygon points="1454.0,543.5 1466.5,537.0 1467.9,546.2"/>
<polygon points="1853.0,545.0 1863.8,535.9 1867.1,544.6"/>
<polygon points="2045.0,542.3 2054.7,532.0 2059.0,540.3"/>
<polygon points="2248.8,541.0 2259.5,531.8 2262.9,540.4"/>
<polygon points="2403.5,542.3 2398.8,529.0 2408.2,529.0"/>
<polygon points="1778.0,628.0 1790.8,621.9 1791.7,631.2"/>
<polygon points="1853.0,550.0 1865.7,543.8 1866.8,553.0"/>
<polygon points="2838.4,542.5 2836.3,528.5 2845.5,530.3"/>
<polygon points="3091.0,542.5 3086.3,529.2 3095.7,529.2"/>
<polygon points="2882.0,619.0 2894.3,612.1 2895.9,621.3"/>
<polygon points="3132.0,617.0 3139.4,605.0 3145.3,612.3"/>
<polygon points="1267.0,627.0 1280.2,622.0 1280.4,631.4"/>
<polygon points="1778.0,631.0 1791.2,626.0 1791.4,635.3"/>
<polygon points="2715.0,691.5 2724.3,680.9 2728.9,689.0"/>
<polygon points="2808.0,617.0 2796.9,608.3 2804.7,603.3"/>
<polygon points="2807.0,551.0 2792.9,552.3 2795.2,543.2"/>
<polygon points="2807.0,553.0 2793.2,555.9 2794.4,546.6"/>
<polygon points="579.5,691.5 581.4,677.5 589.7,681.7"/>
<polygon points="2601.5,703.0 2588.1,707.5 2588.2,698.1"/>
<polygon points="2672.0,691.0 2658.7,686.2 2664.6,679.0"/>
<polygon points="2680.0,691.5 2668.9,682.7 2676.8,677.7"/>
<polygon points="2693.6,692.0 2687.5,679.3 2696.8,678.2"/>
<polygon points="2702.0,691.5 2700.0,677.5 2709.2,679.3"/>
<polygon points="2698.0,692.0 2693.3,678.7 2702.7,678.7"/>
<polygon points="2641.6,691.5 2627.6,693.1 2629.7,684.0"/>
<polygon points="1267.0,625.0 1279.9,619.3 1280.7,628.6"/>
<polygon points="1853.0,547.0 1864.9,539.5 1867.0,548.6"/>
<polygon points="1779.0,625.0 1791.8,618.9 1792.8,628.2"/>
<polygon points="2687.0,691.5 2678.8,680.0 2687.8,677.4"/>
<polygon points="605.5,689.7 616.5,680.8 619.6,689.6"/>
<polygon points="818.0,553.4 831.1,548.1 831.5,557.5"/>
<polygon points="1165.0,617.4 1150.9,618.2 1153.5,609.2"/>
<polygon points="1219.0,617.0 1222.1,603.2 1230.0,608.2"/>
<polygon points="1241.0,617.0 1251.8,607.9 1255.1,616.6"/>
<polygon points="649.0,626.8 662.1,621.6 662.5,630.9"/>
<polygon points="1853.0,546.0 1864.9,538.4 1867.0,547.5"/>
<polygon points="2075.6,542.4 2087.6,535.0 2089.6,544.1"/>
<polygon points="2107.0,543.0 2118.9,535.4 2121.0,544.5"/>
<polygon points="1808.5,553.4 1794.9,557.3 1795.5,548.0"/>
<polygon points="1475.0,543.6 1461.2,546.6 1462.4,537.3"/>
<polygon points="1454.0,543.0 1466.2,535.9 1468.0,545.1"/>
<polygon points="1197.5,617.0 1186.9,607.6 1195.1,603.1"/>
<polygon points="604.0,693.6 615.7,685.7 618.1,694.7"/>
<polygon points="1196.0,617.0 1185.0,608.2 1192.9,603.2"/>
<polygon points="2601.5,698.2 2587.4,699.5 2589.7,690.4"/>
<polygon points="603.0,698.8 615.8,692.8 616.7,702.1"/>
<polygon points="2601.5,703.1 2588.1,707.6 2588.2,698.3"/>
<polygon points="2601.5,703.3 2588.1,707.8 2588.2,698.5"/>
<polygon points="603.0,702.0 616.2,696.9 616.5,706.2"/>
<polygon points="603.0,702.3 616.2,697.2 616.5,706.5"/>
<polygon points="603.0,703.0 616.2,697.9 616.5,707.2"/>
<polygon points="2601.5,703.5 2588.1,708.0 2588.2,698.7"/>
<polygon points="2601.5,703.7 2588.1,708.2 2588.2,698.8"/>
<polygon points="1847.0,541.5 1847.4,527.4 1856.1,530.7"/>
<polygon points="1838.7,542.3 1836.0,528.4 1845.2,529.8"/>
<polygon points="2086.0,468.5 2098.6,462.1 2099.8,471.4"/>
<polygon points="2789.0,701.0 2802.0,695.6 2802.6,704.9"/>
<polygon points="2789.0,702.0 2802.0,696.6 2802.6,705.9"/>
<polygon points="1770.5,616.5 1780.4,606.4 1784.5,614.8"/>
</g>
<rect x="3619.0" y="5.5" width="215.0" height="40.3" fill="#bfbfbf" stroke="#000" stroke-width="1.33"/>
<text x="3629.6" y="21.4" textLength="170.0" lengthAdjust="spacingAndGlyphs">src/yacsloader/ExampleOf</text>
<text x="3629.6" y="37.0" textLength="193.7" lengthAdjust="spacingAndGlyphs">ObserversPluginForDriver.cxx</text>
<rect x="2937.0" y="95.1" width="133.0" height="25.3" fill="#fff" stroke="#000" stroke-width="1.33"/>
<text x="2947.7" y="110.9" textLength="111.7" lengthAdjust="spacingAndGlyphs">ForEachLoop.hxx</text>
<rect x="3725.0" y="95.1" width="80.0" height="25.3" fill="#fff" stroke="#bfbfbf" stroke-width="1.33"/>
<text x="3735.7" y="110.9" textLength="58.7" lengthAdjust="spacingAndGlyphs">iostream</text>
<rect x="3828.0" y="95.1" width="75.5" height="25.3" fill="#fff" stroke="#bfbfbf" stroke-width="1.33"/>
<text x="3838.7" y="110.9" textLength="54.2" lengthAdjust="spacingAndGlyphs">sstream</text>
<rect x="3135.0" y="169.6" width="137.0" height="25.3" fill="#fff" stroke="#000" stroke-width="1.33"/>
<text x="3145.7" y="185.4" textLength="115.7" lengthAdjust="spacingAndGlyphs">DynParaLoop.hxx</text>
<rect x="3289.8" y="244.9" width="128.2" height="25.3" fill="#fff" stroke="#000" stroke-width="1.33"/>
<text x="3300.5" y="260.7" textLength="106.9" lengthAdjust="spacingAndGlyphs">NbBranches.hxx</text>
<rect x="238.5" y="319.3" width="159.1" height="25.3" fill="#fff" stroke="#000" stroke-width="1.33"/>
<text x="249.2" y="335.1" textLength="137.8" lengthAdjust="spacingAndGlyphs">ElementaryNode.hxx</text>
<rect x="1445.5" y="319.3" width="153.5" height="25.3" fill="#fff" stroke="#000" stroke-width="1.33"/>
<text x="1456.2" y="335.1" textLength="132.2" lengthAdjust="spacingAndGlyphs">ComposedNode.hxx</text>
<rect x="3092.0" y="319.3" width="135.0" height="25.3" fill="#fff" stroke="#000" stroke-width="1.33"/>
<text x="3102.7" y="335.1" textLength="113.7" lengthAdjust="spacingAndGlyphs">AnyInputPort.hxx</text>
<rect x="3251.0" y="319.3" width="141.0" height="25.3" fill="#fff" stroke="#000" stroke-width="1.33"/>
<text x="3261.7" y="335.1" textLength="119.7" lengthAdjust="spacingAndGlyphs">AnyOutputPort.hxx</text>
<rect x="3471.6" y="319.3" width="77.0" height="25.3" fill="#fff" stroke="#bfbfbf" stroke-width="1.33"/>
<text x="3482.2" y="335.1" textLength="55.7" lengthAdjust="spacingAndGlyphs">memory</text>
<rect x="43.8" y="393.9" width="85.0" height="25.3" fill="#fff" stroke="#bfbfbf" stroke-width="1.33"/>
<text x="54.4" y="409.7" textLength="63.7" lengthAdjust="spacingAndGlyphs">algorithm</text>
<rect x="1216.0" y="393.9" width="84.6" height="25.3" fill="#fff" stroke="#000" stroke-width="1.33"/>
<text x="1226.7" y="409.7" textLength="63.3" lengthAdjust="spacingAndGlyphs">Node.hxx</text>
<rect x="2230.8" y="393.9" width="119.2" height="25.3" fill="#fff" stroke="#000" stroke-width="1.33"/>
<text x="2241.5" y="409.7" textLength="97.9" lengthAdjust="spacingAndGlyphs">OutputPort.hxx</text>
<rect x="2599.7" y="393.9" width="109.3" height="25.3" fill="#fff" stroke="#000" stroke-width="1.33"/>
<text x="2610.3" y="409.7" textLength="88.0" lengthAdjust="spacingAndGlyphs">InputPort.hxx</text>
<rect x="3356.6" y="393.9" width="91.4" height="25.3" fill="#fff" stroke="#000" stroke-width="1.33"/>
<text x="3367.2" y="409.7" textLength="70.1" lengthAdjust="spacingAndGlyphs">Mutex.hxx</text>
<rect x="306.0" y="468.6" width="79.0" height="25.3" fill="#fff" stroke="#000" stroke-width="1.33"/>
<text x="316.6" y="484.4" textLength="57.7" lengthAdjust="spacingAndGlyphs">Task.hxx</text>
<rect x="459.5" y="468.6" width="114.7" height="25.3" fill="#fff" stroke="#000" stroke-width="1.33"/>
<text x="470.1" y="484.4" textLength="93.4" lengthAdjust="spacingAndGlyphs">Scheduler.hxx</text>
<rect x="649.3" y="468.6" width="92.7" height="25.3" fill="#fff" stroke="#000" stroke-width="1.33"/>
<text x="659.9" y="484.4" textLength="71.4" lengthAdjust="spacingAndGlyphs">InGate.hxx</text>
<rect x="852.6" y="468.6" width="104.7" height="25.3" fill="#fff" stroke="#000" stroke-width="1.33"/>
<text x="863.2" y="484.4" textLength="83.4" lengthAdjust="spacingAndGlyphs">OutGate.hxx</text>
<rect x="1559.6" y="468.6" width="138.8" height="25.3" fill="#fff" stroke="#000" stroke-width="1.33"/>
<text x="1570.2" y="484.4" textLength="117.5" lengthAdjust="spacingAndGlyphs">DataFlowPort.hxx</text>
<rect x="1722.4" y="468.6" width="98.2" height="25.3" fill="#fff" stroke="#000" stroke-width="1.33"/>
<text x="1733.1" y="484.4" textLength="76.9" lengthAdjust="spacingAndGlyphs">OutPort.hxx</text>
<rect x="1996.6" y="468.6" width="88.4" height="25.3" fill="#fff" stroke="#000" stroke-width="1.33"/>
<text x="2007.2" y="484.4" textLength="67.1" lengthAdjust="spacingAndGlyphs">InPort.hxx</text>
<rect x="2109.0" y="468.6" width="106.0" height="25.3" fill="#fff" stroke="#000" stroke-width="1.33"/>
<text x="2119.7" y="484.4" textLength="84.7" lengthAdjust="spacingAndGlyphs">Runtime.hxx</text>
<rect x="2341.4" y="468.6" width="124.6" height="25.3" fill="#fff" stroke="#000" stroke-width="1.33"/>
<text x="2352.1" y="484.4" textLength="103.3" lengthAdjust="spacingAndGlyphs">PlayGround.hxx</text>
<rect x="2790.3" y="468.6" width="120.1" height="25.3" fill="#fff" stroke="#000" stroke-width="1.33"/>
<text x="2801.0" y="484.4" textLength="98.8" lengthAdjust="spacingAndGlyphs">Dispatcher.hxx</text>
<rect x="3037.8" y="468.6" width="104.4" height="25.3" fill="#fff" stroke="#000" stroke-width="1.33"/>
<text x="3048.5" y="484.4" textLength="83.1" lengthAdjust="spacingAndGlyphs">yacsconfig.h</text>
<rect x="355.3" y="543.2" width="90.7" height="25.3" fill="#fff" stroke="#000" stroke-width="1.33"/>
<text x="365.9" y="559.0" textLength="69.4" lengthAdjust="spacingAndGlyphs">define.hxx</text>
<rect x="774.6" y="543.2" width="42.4" height="25.3" fill="#fff" stroke="#bfbfbf" stroke-width="1.33"/>
<text x="785.2" y="559.0" textLength="21.1" lengthAdjust="spacingAndGlyphs">list</text>
<rect x="1196.4" y="543.2" width="124.4" height="25.3" fill="#fff" stroke="#000" stroke-width="1.33"/>
<text x="1207.1" y="559.0" textLength="103.1" lengthAdjust="spacingAndGlyphs">AutoRefCnt.hxx</text>
<rect x="1345.0" y="543.2" width="106.0" height="25.3" fill="#fff" stroke="#000" stroke-width="1.33"/>
<text x="1355.7" y="559.0" textLength="84.7" lengthAdjust="spacingAndGlyphs">DataPort.hxx</text>
<rect x="1475.3" y="543.2" width="158.0" height="25.3" fill="#fff" stroke="#000" stroke-width="1.33"/>
<text x="1486.0" y="559.0" textLength="136.7" lengthAdjust="spacingAndGlyphs">DeploymentTree.hxx</text>
<rect x="1808.8" y="543.2" width="42.5" height="25.3" fill="#fff" stroke="#bfbfbf" stroke-width="1.33"/>
<text x="1819.5" y="559.0" textLength="21.2" lengthAdjust="spacingAndGlyphs">set</text>
<rect x="1925.8" y="543.2" width="187.2" height="25.3" fill="#fff" stroke="#000" stroke-width="1.33"/>
<text x="1936.5" y="559.0" textLength="165.9" lengthAdjust="spacingAndGlyphs">ConversionException.hxx</text>
<rect x="2187.8" y="543.2" width="63.4" height="25.3" fill="#fff" stroke="#bfbfbf" stroke-width="1.33"/>
<text x="2198.5" y="559.0" textLength="42.1" lengthAdjust="spacingAndGlyphs">mutex</text>
<rect x="2326.0" y="543.2" width="155.0" height="25.3" fill="#fff" stroke="#000" stroke-width="1.33"/>
<text x="2336.7" y="559.0" textLength="133.7" lengthAdjust="spacingAndGlyphs">ComplexWeight.hxx</text>
<rect x="2809.2" y="543.2" width="50.3" height="25.3" fill="#fff" stroke="#bfbfbf" stroke-width="1.33"/>
<text x="2819.8" y="559.0" textLength="29.0" lengthAdjust="spacingAndGlyphs">map</text>
<rect x="3036.2" y="543.2" width="110.8" height="25.3" fill="#fff" stroke="#bfbfbf" stroke-width="1.33"/>
<text x="3046.8" y="559.0" textLength="89.5" lengthAdjust="spacingAndGlyphs">yacs_config.h</text>
<rect x="3170.6" y="543.2" width="73.7" height="25.3" fill="#fff" stroke="#000" stroke-width="1.33"/>
<text x="3181.2" y="559.0" textLength="52.4" lengthAdjust="spacingAndGlyphs">Any.hxx</text>
<rect x="571.8" y="617.8" width="76.6" height="25.3" fill="#fff" stroke="#000" stroke-width="1.33"/>
<text x="582.4" y="633.6" textLength="55.3" lengthAdjust="spacingAndGlyphs">Port.hxx</text>
<rect x="1151.6" y="617.8" width="114.4" height="25.3" fill="#fff" stroke="#000" stroke-width="1.33"/>
<text x="1162.2" y="633.6" textLength="93.1" lengthAdjust="spacingAndGlyphs">Exception.hxx</text>
<rect x="1714.8" y="617.8" width="62.5" height="25.3" fill="#fff" stroke="#bfbfbf" stroke-width="1.33"/>
<text x="1725.5" y="633.6" textLength="41.2" lengthAdjust="spacingAndGlyphs">vector</text>
<rect x="2757.9" y="617.8" width="122.8" height="25.3" fill="#fff" stroke="#000" stroke-width="1.33"/>
<text x="2768.6" y="633.6" textLength="101.5" lengthAdjust="spacingAndGlyphs">RefCounter.hxx</text>
<rect x="3055.8" y="617.8" width="114.2" height="25.3" fill="#fff" stroke="#000" stroke-width="1.33"/>
<text x="3066.5" y="633.6" textLength="92.9" lengthAdjust="spacingAndGlyphs">SharedPtr.hxx</text>
<rect x="543.5" y="692.4" width="58.9" height="25.7" fill="#fff" stroke="#bfbfbf" stroke-width="1.33"/>
<text x="554.1" y="708.2" textLength="37.6" lengthAdjust="spacingAndGlyphs">string</text>
<rect x="1052.4" y="692.4" width="163.6" height="25.7" fill="#fff" stroke="#000" stroke-width="1.33"/>
<text x="1063.1" y="708.2" textLength="142.3" lengthAdjust="spacingAndGlyphs">YACSBasesExport.hxx</text>
<rect x="1240.3" y="692.4" width="86.5" height="25.7" fill="#fff" stroke="#bfbfbf" stroke-width="1.33"/>
<text x="1251.0" y="708.2" textLength="65.2" lengthAdjust="spacingAndGlyphs">exception</text>
<rect x="2602.3" y="692.4" width="186.3" height="25.7" fill="#fff" stroke="#000" stroke-width="1.33"/>
<text x="2613.0" y="708.2" textLength="165.0" lengthAdjust="spacingAndGlyphs">YACSlibEngineExport.hxx</text>
</svg></body></html>
